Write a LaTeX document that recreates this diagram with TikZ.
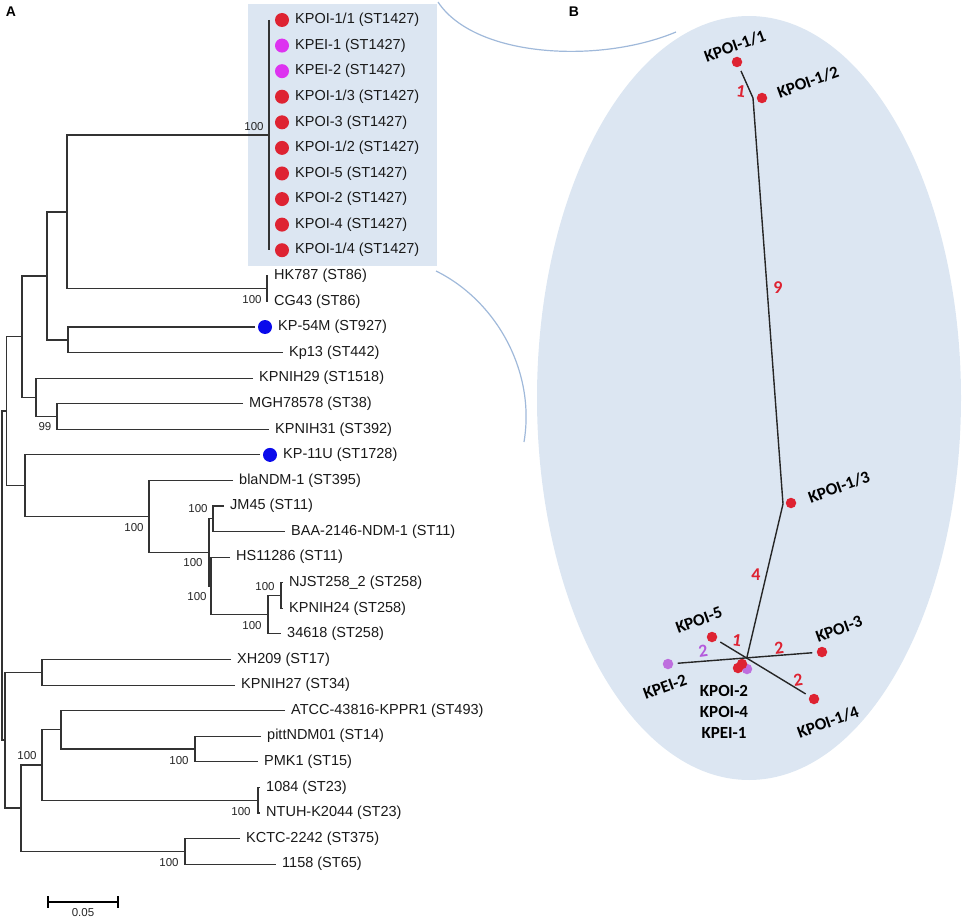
\documentclass[tikz,border=0pt]{standalone}
\usepackage{fontspec}
\setmainfont{Liberation Sans}
\newfontfamily\calibri{Carlito}
\usetikzlibrary{positioning}

\definecolor{dotred}{RGB}{222,35,50}
\definecolor{dotmag}{RGB}{221,51,240}
\definecolor{dotpur}{RGB}{190,110,222}
\definecolor{dotblue}{RGB}{10,10,235}
\definecolor{boxfill}{RGB}{220,230,242}
\definecolor{linkcol}{RGB}{160,185,218}
\definecolor{numpur}{RGB}{180,90,220}

\tikzset{
  branch/.style={line width=1.1pt, draw=black!80},
  leaf/.style={anchor=west, inner xsep=6pt, inner ysep=1pt, text=black!90,
    font=\fontsize{14.5}{17}\selectfont},
  boot/.style={inner sep=0pt, text=black!85, font=\fontsize{11.5}{13}\selectfont},
  sdot/.style={circle, fill=#1, minimum size=14pt, inner sep=0pt, outer sep=3pt},
  bdot/.style={circle, fill=#1, minimum size=10.5pt, inner sep=0pt, outer sep=4.5pt},
  edge/.style={line width=1.4pt, draw=black!85},
  blab/.style={inner sep=0pt, font=\calibri\bfseries\fontsize{17}{21}\selectfont},
  num/.style={inner sep=0pt, text=#1, font=\calibri\bfseries\fontsize{18}{20}\selectfont},
  panel/.style={inner sep=0pt, font=\bfseries\fontsize{14}{16}\selectfont},
  link/.style={draw=linkcol, line width=1.2pt}
}

\begin{document}
\begin{tikzpicture}[x=1pt, y=-1pt]
\useasboundingbox (0,0) rectangle (964,920);

% ---- A: tree
\node[panel] (pA) at (11,12) {A};
\fill[boxfill] (248,4) rectangle (437,266);

% ST1427 cluster
\coordinate (c1427t) at (269,20);
\coordinate (c1427b) at (269,250);
\draw[branch] (c1427t) -- (c1427b);
\foreach \i/\lab/\col in {0/{KPOI-1/1}/dotred, 1/KPEI-1/dotmag, 2/KPEI-2/dotmag,
    3/{KPOI-1/3}/dotred, 4/KPOI-3/dotred, 5/{KPOI-1/2}/dotred, 6/KPOI-5/dotred,
    7/KPOI-2/dotred, 8/KPOI-4/dotred, 9/{KPOI-1/4}/dotred}{
  \node[sdot=\col] (k\i) at (282,20+25.58*\i) {};
  \node[leaf, right=-3pt of k\i] (kl\i) {\lab\ (ST1427)};
}

% leaves
\node[leaf] (hk) at (268,275.8) {HK787 (ST86)};
\node[leaf] (cg) at (268,301.4) {CG43 (ST86)};
\node[sdot=dotblue] (d54) at (265,327) {};
\node[leaf, right=-3pt of d54] (kp54) {KP-54M (ST927)};
\node[leaf] (kp13) at (283,352.5) {Kp13 (ST442)};
\node[leaf] (nih29) at (253,378.1) {KPNIH29 (ST1518)};
\node[leaf] (mgh) at (243,403.7) {MGH78578 (ST38)};
\node[leaf] (nih31) at (269,429.3) {KPNIH31 (ST392)};
\node[sdot=dotblue] (d11u) at (270,454.9) {};
\node[leaf, right=-3pt of d11u] (kp11u) {KP-11U (ST1728)};
\node[leaf] (ndm) at (233,480.4) {blaNDM-1 (ST395)};
\node[leaf] (jm45) at (224,506) {JM45 (ST11)};
\node[leaf] (baa) at (285,531.6) {BAA-2146-NDM-1 (ST11)};
\node[leaf] (hs) at (230,557.2) {HS11286 (ST11)};
\node[leaf] (njst) at (283,582.8) {NJST258\_2 (ST258)};
\node[leaf] (nih24) at (283,608.3) {KPNIH24 (ST258)};
\node[leaf] (s34618) at (281,633.9) {34618 (ST258)};
\node[leaf] (xh) at (231,659.5) {XH209 (ST17)};
\node[leaf] (nih27) at (235,685.1) {KPNIH27 (ST34)};
\node[leaf] (atcc) at (285,710.7) {ATCC-43816-KPPR1 (ST493)};
\node[leaf] (pitt) at (261,736.2) {pittNDM01 (ST14)};
\node[leaf] (pmk) at (258,761.8) {PMK1 (ST15)};
\node[leaf] (s1084) at (260,787.4) {1084 (ST23)};
\node[leaf] (ntuh) at (260,813) {NTUH-K2044 (ST23)};
\node[leaf] (kctc) at (240,838.6) {KCTC-2242 (ST375)};
\node[leaf] (s1158) at (276,864.1) {1158 (ST65)};

% inner nodes
\coordinate (n1427) at (269,135);
\coordinate (n86) at (267,288.6);
\coordinate (nA1) at (67,212);
\coordinate (n54) at (68,340);
\coordinate (nB1) at (47,276);
\coordinate (n38) at (57,416.5);
\coordinate (n29) at (36,397.3);
\coordinate (nC1) at (22,336.7);
\coordinate (nJM) at (213,518.8);
\coordinate (n258b) at (281,595.6);
\coordinate (n258) at (268,614.7);
\coordinate (nHS) at (211,586);
\coordinate (nST11) at (209,552.4);
\coordinate (nNDM) at (149,516.4);
\coordinate (n11U) at (25,485.6);
\coordinate (nR1) at (6.5,411);
\coordinate (n17) at (42,672.3);
\coordinate (n14) at (195,749);
\coordinate (n493) at (61,729.9);
\coordinate (n23) at (258,800.2);
\coordinate (n42) at (42,765);
\coordinate (n375) at (185,851.4);
\coordinate (n21) at (21,808);
\coordinate (nR2) at (5,740);
\coordinate (root) at (2,575);

\draw[branch] (hk) -| (n86) |- (cg);
\draw[branch] (n1427) -| (nA1) |- (n86);
\draw[branch] (d54) -| (n54) |- (kp13);
\draw[branch] (nA1) -| (nB1) |- (n54);
\draw[branch] (mgh) -| (n38) |- (nih31);
\draw[branch] (nih29) -| (n29) |- (n38);
\draw[branch] (nB1) -| (nC1) |- (n29);
\draw[branch] (jm45) -| (nJM) |- (baa);
\draw[branch] (njst) -| (n258b) |- (nih24);
\draw[branch] (n258b) -| (n258) |- (s34618);
\draw[branch] (hs) -| (nHS) |- (n258);
\draw[branch] (nJM) -| (nST11) |- (nHS);
\draw[branch] (ndm) -| (nNDM) |- (nST11);
\draw[branch] (d11u) -| (n11U) |- (nNDM);
\draw[branch] (nC1) -| (nR1) |- (n11U);
\draw[branch] (xh) -| (n17) |- (nih27);
\draw[branch] (pitt) -| (n14) |- (pmk);
\draw[branch] (atcc) -| (n493) |- (n14);
\draw[branch] (s1084) -| (n23) |- (ntuh);
\draw[branch] (n493) -| (n42) |- (n23);
\draw[branch] (kctc) -| (n375) |- (s1158);
\draw[branch] (n42) -| (n21) |- (n375);
\draw[branch] (n17) -| (nR2) |- (n21);
\draw[branch] (nR1) -| (root) |- (nR2);

% bootstrap values
\node[boot] (b1427) at (254,127) {100};
\node[boot] (b86) at (252,300) {100};
\node[boot] (b38) at (45,427) {99};
\node[boot] (bNDM) at (134,528) {100};
\node[boot] (bJM) at (198,509) {100};
\node[boot] (bST11) at (193,563) {100};
\node[boot] (bHS) at (197,597) {100};
\node[boot] (b258b) at (265,587) {100};
\node[boot] (b258) at (252,626) {100};
\node[boot] (b42) at (27,756) {100};
\node[boot] (b14) at (179,761) {100};
\node[boot] (b23) at (241,812) {100};
\node[boot] (b375) at (169,863) {100};

% scale bar
\coordinate (sb1) at (48,902);
\coordinate (sb2) at (118,902);
\draw[line width=2.5pt] (sb1) -- (sb2);
\draw[line width=2.5pt] (sb1) ++(0,-6) -- ++(0,12);
\draw[line width=2.5pt] (sb2) ++(0,-6) -- ++(0,12);
\node[boot] (sbl) at (83,913) {0.05};

% ---- B: network
\node[panel] (pB) at (574,12) {B};
\fill[boxfill] (749,398) ellipse [x radius=212, y radius=382];

\coordinate (cu1) at (438,2);
\coordinate (cu2) at (676,32);
\draw[link] (cu1) .. controls (475,58) and (600,64) .. (cu2);
\coordinate (cl1) at (436,271);
\coordinate (cl2) at (524,442);
\draw[link] (cl1) .. controls (495,300) and (536,370) .. (cl2);

\node[bdot=dotred] (p11) at (737,62) {};
\node[bdot=dotred] (p12) at (762,98) {};
\node[bdot=dotred] (p13) at (791,503) {};
\node[bdot=dotred] (p5) at (712,637) {};
\node[bdot=dotred] (p3) at (822,652) {};
\node[bdot=dotred] (p14) at (814,699) {};
\node[bdot=dotpur] (e2) at (668,664) {};
\node[bdot=dotpur] (e1) at (747,669) {};
\node[bdot=dotred] (p2) at (738,668) {};
\node[bdot=dotred] (p4) at (742,664) {};

\coordinate (j12) at (753,98);
\coordinate (j13) at (783,504);
\coordinate (hub) at (747,657);
\draw[edge] (p11) -- (j12) -- (j13) -- (hub);
\draw[edge] (e2) -- (p3);
\draw[edge] (p5) -- (p14);

\node[blab, rotate=20] (t11) at (735,46) {KPOI-1/1};
\node[blab, rotate=20] (t12) at (808,82) {KPOI-1/2};
\node[blab, rotate=20] (t13) at (839,487) {KPOI-1/3};
\node[blab, rotate=20] (t5) at (699,620) {KPOI-5};
\node[blab, rotate=20] (t3) at (839,629) {KPOI-3};
\node[blab, rotate=20] (te2) at (665,687) {KPEI-2};
\node[blab, rotate=20] (t14) at (828,722) {KPOI-1/4};
\node[blab, align=center] (tc) at (724,712) {KPOI-2\\KPOI-4\\KPEI-1};

\node[num=dotred, rotate=-8] (m1) at (741,91) {1};
\node[num=dotred] (m9) at (778,288) {9};
\node[num=dotred] (m4) at (756,575) {4};
\node[num=dotred, rotate=-8] (m1b) at (737,640) {1};
\node[num=dotred, rotate=8] (m2a) at (779,648) {2};
\node[num=dotred, rotate=8] (m2b) at (798,680) {2};
\node[num=numpur, rotate=8] (m2p) at (703,651) {2};
\end{tikzpicture}
\end{document}
